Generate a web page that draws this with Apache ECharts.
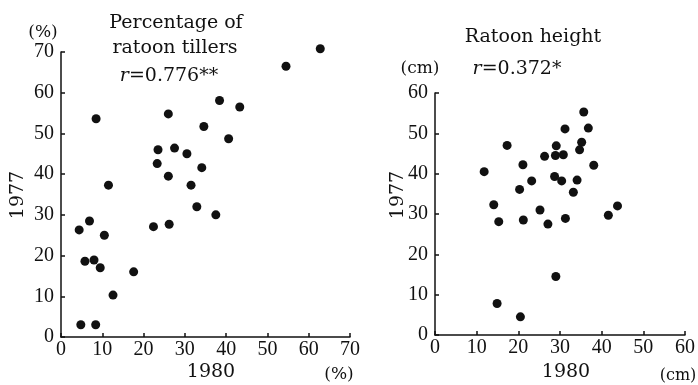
<!DOCTYPE html>
<html>
<head>
<meta charset="utf-8">
<script src="https://cdn.jsdelivr.net/npm/echarts@6/dist/echarts.min.js"></script>
<style>
  html, body { margin: 0; padding: 0; background: #fff; }
  #chart { width: 698px; height: 385px; }
</style>
</head>
<body>
<div id="chart"></div>
<script>
// percentage of ratoon tillers (%), 1980 vs 1977
const tillers1980 = [62.8, 54.5, 38.4, 43.3, 8.5, 26.0, 34.6, 40.6, 23.5, 27.5, 30.5, 23.3, 34.1, 26.0, 11.5,
                     31.5, 32.9, 37.5, 4.4, 6.9, 10.5, 22.4, 26.2, 5.8, 8.0, 9.5, 17.6, 12.6, 4.8, 8.4]
const tillers1977 = [70.8, 66.5, 58.1, 56.5, 53.6, 54.8, 51.7, 48.7, 46.0, 46.4, 45.0, 42.6, 41.6, 39.5, 37.3,
                     37.3, 32.0, 30.0, 26.3, 28.5, 25.0, 27.1, 27.7, 18.6, 18.9, 17.0, 16.0, 10.3, 3.0, 3.0]

// ratoon height (cm), 1980 vs 1977
const height1980 = [35.7, 36.8, 31.2, 17.3, 35.2, 34.7, 29.1, 28.9, 30.8, 26.3, 21.1, 38.1, 11.8, 28.7, 30.4,
                    34.1, 23.2, 20.3, 33.2, 14.1, 15.3, 21.2, 25.2, 27.1, 31.3, 41.6, 43.8, 29.0, 14.9, 20.5]
const height1977 = [55.3, 51.3, 51.1, 47.0, 47.8, 45.9, 46.9, 44.5, 44.7, 44.3, 42.2, 42.1, 40.5, 39.3, 38.2,
                    38.4, 38.2, 36.1, 35.4, 32.3, 28.1, 28.5, 31.0, 27.5, 28.9, 29.7, 32.0, 14.5, 7.8, 4.5]

const tillersMax = 70
const heightMax = 60
const tickStep = 10

const zip = (xs, ys) => xs.map((x, i) => [x, ys[i]])

const ink = '#111'
const tickFont = 'Liberation Serif, serif'
const textFont = 'DejaVu Serif, serif'

function axis(gridIndex, max, margin) {
  return {
    gridIndex,
    type: 'value',
    min: 0,
    max,
    interval: tickStep,
    axisLine: { show: true, lineStyle: { color: ink, width: 1.5 } },
    axisTick: { show: true, inside: true, length: 4, lineStyle: { color: ink, width: 1.5 } },
    splitLine: { show: false },
    axisLabel: { color: ink, fontFamily: tickFont, fontSize: 20, margin }
  }
}

function label(text, x, y, size, extra) {
  return Object.assign({
    type: 'text',
    x, y,
    style: {
      text,
      fill: ink,
      font: size + 'px ' + textFont,
      textAlign: 'center',
      textVerticalAlign: 'middle'
    }
  }, extra || {})
}

function rLabel(text, x, y) {
  return {
    type: 'text', x, y,
    style: {
      text,
      fill: ink,
      font: '19px ' + textFont,
      textAlign: 'center',
      textVerticalAlign: 'middle',
      rich: { i: { font: 'italic 19px ' + textFont, fill: ink } }
    }
  }
}

const chart = echarts.init(document.getElementById('chart'))

chart.setOption({
  backgroundColor: '#fff',
  animation: false,
  grid: [
    { left: 61, top: 52, width: 289, height: 285 },
    { left: 435, top: 93, width: 252, height: 242 }
  ],
  xAxis: [axis(0, tillersMax, 3), axis(1, heightMax, 3)],
  yAxis: [axis(0, tillersMax, 7), axis(1, heightMax, 7)],
  series: [
    {
      type: 'scatter',
      xAxisIndex: 0, yAxisIndex: 0,
      clip: false,
      data: zip(tillers1980, tillers1977),
      symbolSize: 9,
      itemStyle: { color: ink, opacity: 1 }
    },
    {
      type: 'scatter',
      xAxisIndex: 1, yAxisIndex: 1,
      clip: false,
      data: zip(height1980, height1977),
      symbolSize: 9,
      itemStyle: { color: ink, opacity: 1 }
    }
  ],
  graphic: [
    label('Percentage of', 176, 23, 19),
    label('ratoon tillers', 175, 48, 19),
    rLabel('{i|r}=0.776**', 169, 76),
    label('(%)', 43, 33, 17),
    label('1977', 18, 195, 19, { rotation: Math.PI / 2 }),
    label('1980', 211, 372, 19),
    label('(%)', 339, 375, 17),

    label('Ratoon height', 533, 37, 19),
    label('(cm)', 420, 69, 17),
    rLabel('{i|r}=0.372*', 517, 69),
    label('1977', 398, 195, 19, { rotation: Math.PI / 2 }),
    label('1980', 566, 372, 19),
    label('(cm)', 678, 376, 16)
  ]
})
</script>
</body>
</html>
